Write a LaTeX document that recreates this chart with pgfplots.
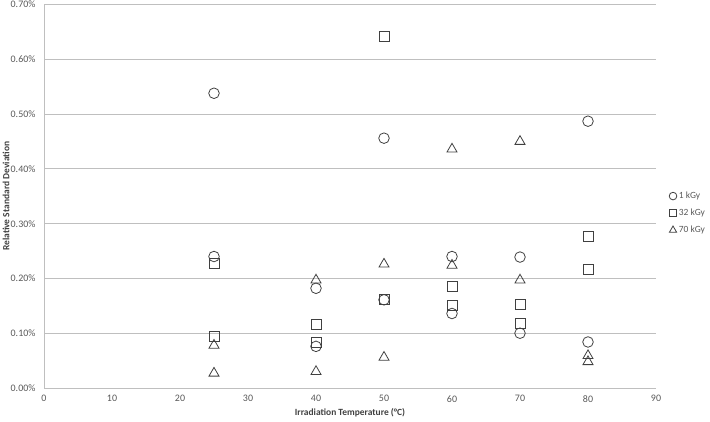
\documentclass[border=0pt]{standalone}
\usepackage{fontspec}
\setmainfont{Carlito}
\usepackage{pgfplots}
\pgfplotsset{compat=1.18}
\definecolor{gridgray}{HTML}{BFBFBF}
\definecolor{markgray}{HTML}{404040}
\definecolor{txtgray}{HTML}{595959}

\begin{document}
\begin{tikzpicture}
\begin{axis}[
  name=ax, at={(0,0)}, anchor=south west,
  scale only axis, width=612bp, height=383.5bp,
  xmin=0, xmax=90, ymin=0, ymax=0.7,
  xtick={0,10,20,30,40,50,60,70,80,90},
  ytick={0,0.1,0.2,0.3,0.4,0.5,0.6,0.7},
  axis x line*=bottom, axis y line*=left,
  axis line style={gridgray, line width=0.75bp, -},
  major tick length=0pt,
  ymajorgrids, grid style={gridgray, line width=0.75bp},
  /pgf/number format/assume math mode=true,
  tick label style={font=\fontsize{10}{11}\selectfont, text=txtgray},
  yticklabel={\pgfmathprintnumber[fixed,fixed zerofill,precision=2]{\tick}\%},
  yticklabel shift=5bp, xticklabel shift=4bp,
  every axis y label/.style={at={(rel axis cs:0,0.5)}, xshift=-38bp, rotate=90, anchor=center},
  every axis x label/.style={at={(rel axis cs:0.5,0)}, anchor=center, yshift=-25bp},
  label style={font=\bfseries\fontsize{9.5}{11}\selectfont, text=markgray},
  xlabel={Irradiation Temperature (°C)},
  ylabel={Relative Standard Deviation},
  legend style={at={(rel axis cs:1,0.456)}, anchor=west, xshift=13bp,
    draw=none, fill=none, font=\fontsize{9.5}{11}\selectfont, text=txtgray,
    row sep=5bp, cells={anchor=west}, inner xsep=0pt},
  legend image code/.code={\draw[#1, mark options={scale=0.72}] plot coordinates {(4bp,0bp)};},
  legend cell align=left,
]
% 1 kGy
\addplot[only marks, mark=o, mark size=5.3bp, markgray, line width=0.8bp] coordinates {
  (25,0.538)(25,0.240)(40,0.182)(40,0.076)(50,0.456)(50,0.161)
  (60,0.240)(60,0.136)(70,0.239)(70,0.100)(80,0.487)(80,0.084)
}; \addlegendentry{1 kGy}
% 32 kGy
\addplot[only marks, mark=square, mark size=5bp, markgray, line width=0.8bp] coordinates {
  (25,0.227)(25,0.095)(40,0.117)(40,0.083)(50,0.642)(50,0.161)
  (60,0.185)(60,0.150)(70,0.153)(70,0.118)(80,0.277)(80,0.217)
}; \addlegendentry{32 kGy}
% 70 kGy
\addplot[only marks, mark=triangle, mark size=5.8bp, markgray, line width=0.8bp] coordinates {
  (25,0.078)(25,0.027)(40,0.197)(40,0.030)(50,0.226)(50,0.056)
  (60,0.436)(60,0.224)(70,0.450)(70,0.197)(80,0.059)(80,0.048)
}; \addlegendentry{70 kGy}
\end{axis}
\path (ax.south west) ++(-44bp,-33bp) coordinate (bl);
\path (ax.north east) ++(54bp,4.5bp) coordinate (tr);
\pgfresetboundingbox
\path (bl) rectangle (tr);
\end{tikzpicture}
\end{document}
